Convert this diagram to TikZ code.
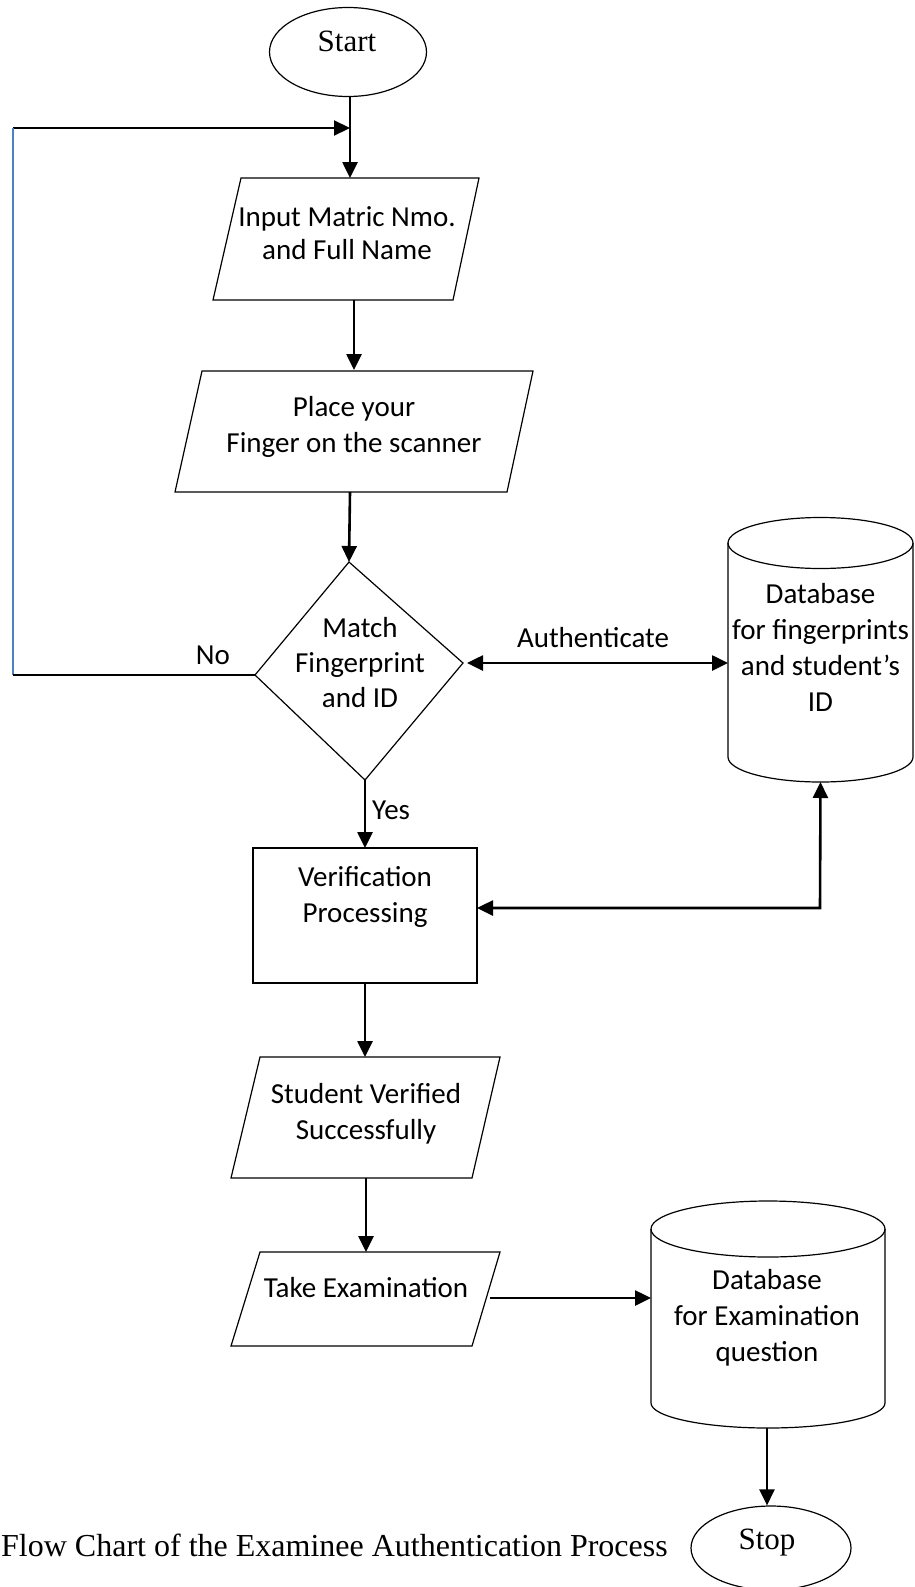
\documentclass[tikz,border=0pt]{standalone}
\usepackage{fontspec}
\setmainfont{Liberation Serif}
\newfontfamily\calfont{Carlito}
\usetikzlibrary{arrows.meta,shapes.geometric,calc}
\definecolor{wordblue}{RGB}{79,129,189}
\begin{document}
\begin{tikzpicture}[x=1pt,y=-1pt,
  shapeline/.style={draw=black,line width=1.2pt},
  box/.style={inner sep=0pt,outer sep=0pt},
  flowarrow/.style={draw=black,line width=2.6pt,-{Triangle[length=16pt,width=15pt]}},
  twoarrow/.style={draw=black,line width=2.6pt,{Triangle[length=16pt,width=15pt]}-{Triangle[length=16pt,width=15pt]}},
  thinline/.style={draw=black,line width=1.6pt},
  txt/.style={font=\calfont\fontsize{29}{36}\selectfont,align=center,inner sep=0pt},
  serif/.style={font=\fontsize{31}{36}\selectfont,inner sep=0pt}]
\useasboundingbox (0,0) rectangle (915,1587);

% Start
\node[ellipse,shapeline,minimum width=157pt,minimum height=89pt,inner sep=0pt] (start) at (348,52) {};
\node[serif] (startlbl) at (347,41.5) {Start};

% Input
\node[box,minimum width=266pt,minimum height=122pt] (inp) at (346,239) {};
\draw[shapeline] (inp.south west) -- ($(inp.south east)+(-26,0)$) -- (inp.north east) -- ($(inp.north west)+(28,0)$) -- cycle;
\node[txt,font=\calfont\fontsize{29}{33}\selectfont] (inplbl) at (347,233) {Input Matric Nmo.\\and Full Name};

% Place finger
\node[box,minimum width=358pt,minimum height=121pt] (plc) at (354,431.5) {};
\draw[shapeline] (plc.south west) -- ($(plc.south east)+(-26,0)$) -- (plc.north east) -- ($(plc.north west)+(27,0)$) -- cycle;
\node[txt] (plclbl) at (354,426.5) {Place your\\Finger on the scanner};

% Decision diamond
\coordinate (dT) at (349,562);
\coordinate (dR) at (463,663);
\coordinate (dB) at (365,780);
\coordinate (dL) at (255,675);
\draw[shapeline] (dT) -- (dR) -- (dB) -- (dL) -- cycle;
\node[txt,font=\calfont\fontsize{29}{35}\selectfont] (match) at (360,663) {Match\\Fingerprint\\and ID};

% Database 1
\node[box,minimum width=185pt,minimum height=265pt] (db1) at (820.5,649.5) {};
\draw[shapeline] (820.5,543) ellipse[x radius=92.5pt,y radius=25.5pt];
\draw[shapeline] (728,543) -- (728,757) arc[start angle=180,end angle=360,x radius=92.5pt,y radius=25pt] -- (913,543);
\node[txt] (db1lbl) at (820.5,647.5) {Database\\for fingerprints\\and student’s\\ID};

% Verification
\node[shapeline,box,minimum width=224pt,minimum height=135pt] (ver) at (365,915.5) {};
\node[txt] (verlbl) at (365,896.5) {Verification\\Processing};

% Student verified
\node[box,minimum width=269pt,minimum height=121pt] (stu) at (365.5,1117.5) {};
\draw[shapeline] (stu.south west) -- ($(stu.south east)+(-28,0)$) -- (stu.north east) -- ($(stu.north west)+(29,0)$) -- cycle;
\node[txt] (stulbl) at (366,1113.5) {Student Verified\\Successfully};

% Take examination
\node[box,minimum width=269pt,minimum height=94pt] (take) at (365.5,1299) {};
\draw[shapeline] (take.south west) -- ($(take.south east)+(-28,0)$) -- (take.north east) -- ($(take.north west)+(29,0)$) -- cycle;
\node[txt] (takelbl) at (366,1288) {Take Examination};

% Database 2
\node[box,minimum width=234pt,minimum height=227pt] (db2) at (768,1314.5) {};
\draw[shapeline] (768,1229) ellipse[x radius=117pt,y radius=28pt];
\draw[shapeline] (651,1229) -- (651,1403) arc[start angle=180,end angle=360,x radius=117pt,y radius=25pt] -- (885,1229);
\node[txt] (db2lbl) at (767,1317.5) {Database\\for Examination\\question};

% Stop
\node[ellipse,shapeline,minimum width=160pt,minimum height=84pt,inner sep=0pt] (stop) at (771,1548) {};
\node[serif] (stoplbl) at (767,1543) {Stop};

% Caption
\node[font=\fontsize{32}{36}\selectfont,inner sep=0pt,anchor=base west] (cap) at (1,1556) {Flow Chart of the Examinee Authentication Process};

% Connectors
\coordinate (fbTop) at (13,128);
\coordinate (fbBot) at (13,675);
\coordinate (startDrop) at (350,128);
\draw[line width=2.6pt] (start.south -| startDrop) -- (startDrop);
\draw[flowarrow] (startDrop) -- (startDrop |- inp.north);
\draw[line width=2.2pt,-{Triangle[length=16pt,width=15pt]}] (fbTop) -- (startDrop);
\draw[draw=wordblue,line width=1.6pt] (fbBot) -- (fbTop);
\draw[thinline] (dL) -- (fbBot);
\node[txt] (nolbl) at (213,655) {No};

\draw[flowarrow] (354,300) -- (354,370);
\draw[flowarrow] (350,492) -- (dT);

\draw[twoarrow] (467,663) -- (db1.west |- dR);
\node[txt] (authlbl) at (593,638) {Authenticate};

\draw[flowarrow] (dB) -- (dB |- ver.north);
\node[txt,anchor=west] (yeslbl) at (372,810) {Yes};

\coordinate (vrCorner) at (820,908);
\draw[twoarrow] (ver.east |- vrCorner) -- (vrCorner) -- (db1.south);

\draw[flowarrow] (ver.south) -- (ver.south |- stu.north);
\draw[flowarrow] (stu.south -| stulbl) -- (stulbl |- take.north);
\draw[flowarrow] (490,1298) -- (db2.west |- 0,1298);
\draw[flowarrow] (db2.south -| 767,0) -- (stop.north -| 767,0);
\end{tikzpicture}
\end{document}
